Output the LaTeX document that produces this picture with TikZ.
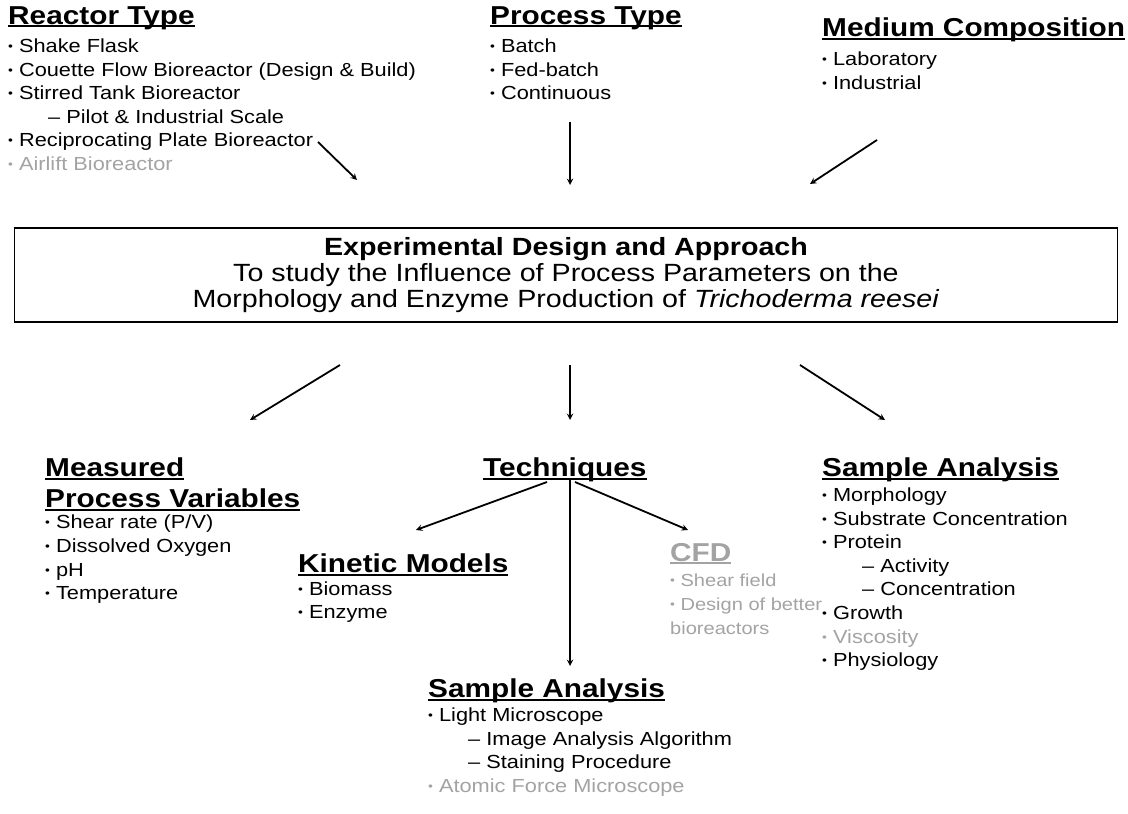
\documentclass[tikz,border=0pt]{standalone}
\usepackage{fontspec}
\setmainfont{Liberation Sans}[FakeStretch=1.15]
\usepackage{xcolor}
\usetikzlibrary{arrows, positioning}

\definecolor{fadedtext}{gray}{0.64}
\newcommand\hdline[1]{\setbox0=\hbox{#1}\rlap{\copy0}\rule[-3bp]{\wd0}{2bp}}
\newcommand\bul{{\fontsize{12}{12}\selectfont\raisebox{2bp}{\textbullet}}\ }
\newcommand\sub{\hspace*{40bp}-- }

\begin{document}
\begin{tikzpicture}[x=1bp, y=-1bp, node distance=9bp]
	% Styles
	\tikzstyle{head} = [inner sep=0pt, anchor=north west, align=left, font=\fontsize{26}{31}\selectfont\bfseries]
	\tikzstyle{list} = [inner sep=0pt, align=left, font=\fontsize{19}{23.7}\selectfont]
	\tikzstyle{mainbox} = [draw, line width=1.6bp, minimum width=1103bp, minimum height=94bp, align=center, font=\fontsize{25}{26}\selectfont]
	\tikzstyle{arrow} = [line width=1.8bp,->,>=stealth]

	\useasboundingbox (0,0) rectangle (1128,814);

	% Nodes
	\node (reactor) [head] at (8,6) {\hdline{Reactor Type}};
	\node (reactorlist) [list, below=of reactor.south west, anchor=north west] {\bul Shake Flask\\ \bul Couette Flow Bioreactor (Design \& Build)\\ \bul Stirred Tank Bioreactor\\ \sub Pilot \& Industrial Scale\\ \bul Reciprocating Plate Bioreactor\\ \textcolor{fadedtext}{\bul Airlift Bioreactor}};

	\node (process) [head] at (490,6) {\hdline{Process Type}};
	\node (processlist) [list, below=of process.south west, anchor=north west] {\bul Batch\\ \bul Fed-batch\\ \bul Continuous};

	\node (medium) [head] at (822,18) {\hdline{Medium Composition}};
	\node (mediumlist) [list, below=of medium.south west, anchor=north west] {\bul Laboratory\\ \bul Industrial};

	\node (design) [mainbox] at (566,275) {\textbf{Experimental Design and Approach}\\ To study the Influence of Process Parameters on the\\ Morphology and Enzyme Production of \textit{Trichoderma reesei}};

	\node (measured) [head] at (45,458) {\hdline{Measured}\\ \hdline{Process Variables}};
	\node (measuredlist) [list, below=4bp of measured.south west, anchor=north west] {\bul Shear rate (P/V)\\ \bul Dissolved Oxygen\\ \bul pH\\ \bul Temperature};

	\node (techniques) [head] at (483,458) {\hdline{Techniques}};

	\node (kinetic) [head] at (298,554) {\hdline{Kinetic Models}};
	\node (kineticlist) [list, below=5bp of kinetic.south west, anchor=north west] {\bul Biomass\\ \bul Enzyme};

	\node (cfd) [head, text=fadedtext] at (670,543) {\hdline{CFD}};
	\node (cfdlist) [list, text=fadedtext, font=\fontsize{17.5}{24}\selectfont, below=of cfd.south west, anchor=north west] {\bul Shear field\\ \bul Design of better\\ bioreactors};

	\node (samplemid) [head] at (428,679) {\hdline{Sample Analysis}};
	\node (samplemidlist) [list, below=4bp of samplemid.south west, anchor=north west] {\bul Light Microscope\\ \sub Image Analysis Algorithm\\ \sub Staining Procedure\\ \textcolor{fadedtext}{\bul Atomic Force Microscope}};

	\node (sampleright) [head] at (822,458) {\hdline{Sample Analysis}};
	\node (samplerightlist) [list, below=5bp of sampleright.south west, anchor=north west] {\bul Morphology\\ \bul Substrate Concentration\\ \bul Protein\\ \sub Activity\\ \sub Concentration\\ \bul Growth\\ \textcolor{fadedtext}{\bul Viscosity}\\ \bul Physiology};

	% Arrow ends
	\coordinate (r1) at (318,142);  \coordinate (r2) at (357,180);
	\coordinate (p1) at (570,122);  \coordinate (p2) at (570,185);
	\coordinate (m1) at (877,140);  \coordinate (m2) at (810,184);
	\coordinate (d1) at (340,365);  \coordinate (d2) at (250,420);
	\coordinate (e1) at (570,365);  \coordinate (e2) at (570,420);
	\coordinate (f1) at (800,365);  \coordinate (f2) at (885,420);
	\coordinate (k1) at (547,482);  \coordinate (k2) at (416,530);
	\coordinate (c1) at (575,482);  \coordinate (c2) at (688,530);
	\coordinate (s1) at (570,480);  \coordinate (s2) at (570,666);

	% Connections
	\draw [arrow] (r1) -- (r2);
	\draw [arrow] (p1) -- (p2);
	\draw [arrow] (m1) -- (m2);
	\draw [arrow] (d1) -- (d2);
	\draw [arrow] (e1) -- (e2);
	\draw [arrow] (f1) -- (f2);
	\draw [arrow] (k1) -- (k2);
	\draw [arrow] (c1) -- (c2);
	\draw [arrow] (s1) -- (s2);

\end{tikzpicture}
\end{document}
